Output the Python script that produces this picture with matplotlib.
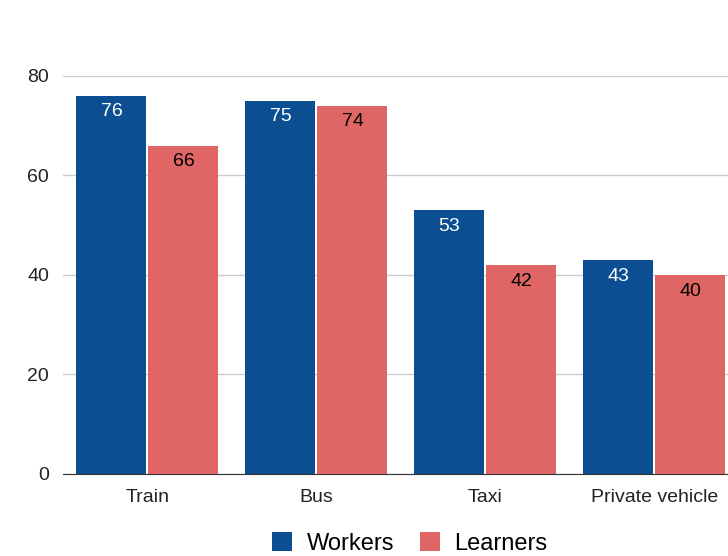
import numpy as np
import matplotlib.pyplot as plt

plt.rcParams['font.family'] = ['Liberation Sans', 'DejaVu Sans']

modes = ["Train", "Bus", "Taxi", "Private vehicle"]
workers = [76, 75, 53, 43]
learners = [66, 74, 42, 40]

blue = "#0b4f92"
red = "#e06666"

fig = plt.figure(figsize=(7.28, 5.56), dpi=100)
ax = fig.add_axes([0.0865, 0.1475, 0.9285, 0.716])

x = np.arange(len(modes))
w = 0.414
off = 0.213
b1 = ax.bar(x - off, workers, w, color=blue, label="Workers", zorder=3)
b2 = ax.bar(x + off, learners, w, color=red, label="Learners", zorder=3)

# value labels just inside the top of each bar
for bars, vals, col in [(b1, workers, "white"), (b2, learners, "black")]:
    for r, v in zip(bars, vals):
        ax.annotate(str(v), (r.get_x() + r.get_width() / 2, v),
                    xytext=(0, -5.5), textcoords="offset points",
                    ha="center", va="top", color=col, fontsize=14, zorder=4)

ax.set_xlim(-0.5, 3.5)
ax.set_ylim(0, 80)
ax.set_yticks([0, 20, 40, 60, 80])
ax.set_xticks(x)
ax.set_xticklabels(modes)
ax.tick_params(length=0, labelsize=14, colors="#222222")
ax.tick_params(axis="y", pad=10)
ax.tick_params(axis="x", pad=11)
ax.grid(axis="y", color="#cccccc", linewidth=1, zorder=0)
for s in ["top", "right", "left"]:
    ax.spines[s].set_visible(False)
ax.spines["bottom"].set_color("#333333")
ax.spines["bottom"].set_zorder(5)

fig.legend(handles=[b1, b2], loc="center", bbox_to_anchor=(0.563, 0.023),
           ncol=2, frameon=False, fontsize=17, handlelength=0.85,
           handleheight=0.85, handletextpad=0.6, columnspacing=1.1)

fig.savefig("out.png", dpi=100)
